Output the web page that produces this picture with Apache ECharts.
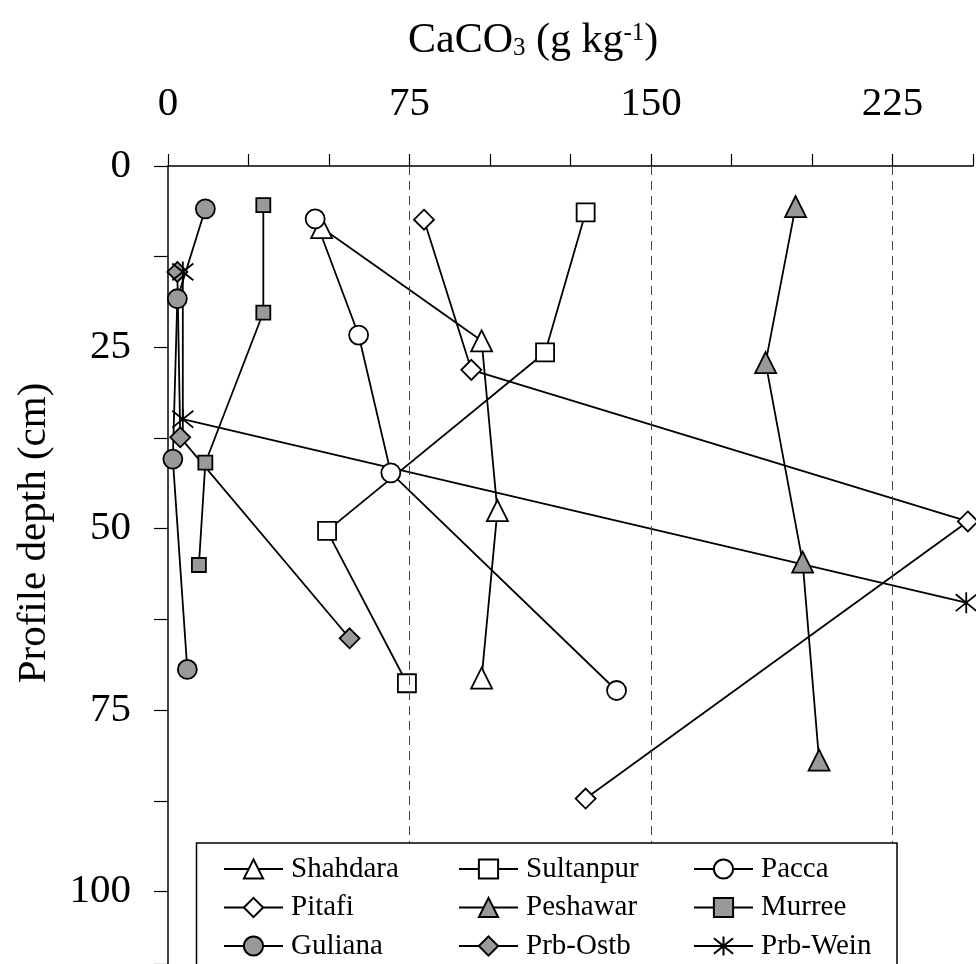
<!DOCTYPE html>
<html>
<head>
<meta charset="utf-8">
<script src="https://cdn.jsdelivr.net/npm/echarts@6/dist/echarts.min.js"></script>
<style>html,body{margin:0;padding:0;background:#fff;}#c{width:976px;height:964px;}</style>
</head>
<body>
<div id="c"></div>
<script>
// ---- Data (CaCO3 g/kg vs profile depth cm) ----
const seriesNames = ['Shahdara','Sultanpur','Pacca','Pitafi','Peshawar','Murree','Guliana','Prb-Ostb','Prb-Wein'];

const shahdaraCaCO3 = [47.7, 97.4, 102.3, 97.4];
const shahdaraDepth = [8.5, 24.1, 47.5, 70.6];
const sultanpurCaCO3 = [129.7, 117.1, 49.4, 74.2];
const sultanpurDepth = [6.4, 25.7, 50.3, 71.3];
const paccaCaCO3 = [45.7, 59.2, 69.2, 139.3];
const paccaDepth = [7.3, 23.3, 42.3, 72.3];
const pitafiCaCO3 = [79.5, 94.2, 248.4, 129.7];
const pitafiDepth = [7.4, 28.1, 49.0, 87.2];
const peshawarCaCO3 = [194.9, 185.6, 197.1, 202.2];
const peshawarDepth = [5.6, 27.1, 54.6, 81.9];
const murreeCaCO3 = [29.6, 29.6, 11.6, 9.6];
const murreeDepth = [5.4, 20.2, 40.9, 55.0];
const gulianaCaCO3 = [11.6, 2.9, 1.5, 6.0];
const gulianaDepth = [5.9, 18.3, 40.4, 69.4];
const prbOstbCaCO3 = [2.9, 3.8, 56.4];
const prbOstbDepth = [14.6, 37.4, 65.1];
const prbWeinCaCO3 = [4.6, 4.6, 247.9];
const prbWeinDepth = [14.6, 34.9, 60.2];

const xGridValues = [75, 150, 225];

// ---- Styling ----
const FONT = '"Liberation Serif", "Times New Roman", serif';
const GREY = '#999999';
const STAR = 'path://M10,0 L10,20 M1,2 L19,18 M1,18 L19,2';

function zip(xs, ys) { return xs.map((x, i) => [x, ys[i]]); }

const seriesDefs = [
  {name: 'Shahdara', x: shahdaraCaCO3, y: shahdaraDepth, symbol: 'triangle', size: 21, fill: '#fff'},
  {name: 'Sultanpur', x: sultanpurCaCO3, y: sultanpurDepth, symbol: 'rect', size: 18, fill: '#fff'},
  {name: 'Pacca', x: paccaCaCO3, y: paccaDepth, symbol: 'circle', size: 19, fill: '#fff'},
  {name: 'Pitafi', x: pitafiCaCO3, y: pitafiDepth, symbol: 'diamond', size: 20, fill: '#fff'},
  {name: 'Peshawar', x: peshawarCaCO3, y: peshawarDepth, symbol: 'triangle', size: 21, fill: GREY},
  {name: 'Murree', x: murreeCaCO3, y: murreeDepth, symbol: 'rect', size: 14, fill: GREY},
  {name: 'Guliana', x: gulianaCaCO3, y: gulianaDepth, symbol: 'circle', size: 19, fill: GREY},
  {name: 'Prb-Ostb', x: prbOstbCaCO3, y: prbOstbDepth, symbol: 'diamond', size: 20, fill: GREY},
  {name: 'Prb-Wein', x: prbWeinCaCO3, y: prbWeinDepth, symbol: STAR, size: 21, fill: 'transparent'}
];

const series = seriesDefs.map((d, i) => {
  const s = {
    name: d.name,
    type: 'line',
    data: zip(d.x, d.y),
    symbol: d.symbol,
    symbolSize: d.size,
    showAllSymbol: true,
    clip: false,
    lineStyle: {color: '#000', width: 1.8},
    itemStyle: {color: d.fill, borderColor: '#000', borderWidth: 1.8},
    emphasis: {disabled: true},
    z: 3
  };
  if (i === 0) {
    s.markLine = {
      silent: true,
      symbol: 'none',
      label: {show: false},
      lineStyle: {type: [9, 6], color: '#444', width: 1},
      data: xGridValues.map(v => ({xAxis: v}))
    };
  }
  return s;
});

function legendCol(names, left) {
  return {
    orient: 'vertical',
    left: left,
    top: 850,
    height: 200,
    padding: 0,
    itemWidth: 59,
    itemHeight: 24,
    itemGap: 0.5,
    selectedMode: false,
    z: 20,
    textStyle: {fontFamily: FONT, fontSize: 29, color: '#000', lineHeight: 38, padding: [0, 0, 0, 3]},
    data: names
  };
}

const chart = echarts.init(document.getElementById('c'), null, {renderer: 'canvas'});
chart.setOption({
  animation: false,
  backgroundColor: '#fff',
  title: {
    text: '{a|CaCO}{s|3}{a| (g kg}{p|-1}{a|)}',
    left: 408,
    top: 21,
    padding: 0,
    textStyle: {
      fontWeight: 'normal',
      rich: {
        a: {fontFamily: FONT, fontSize: 42, lineHeight: 40, color: '#000', fontWeight: 'normal'},
        s: {fontFamily: FONT, fontSize: 25, lineHeight: 22, color: '#000', fontWeight: 'normal', verticalAlign: 'bottom'},
        p: {fontFamily: FONT, fontSize: 25, lineHeight: 22, color: '#000', fontWeight: 'normal', verticalAlign: 'top'}
      }
    }
  },
  grid: {left: 168, right: 1.3, top: 166, bottom: 0, containLabel: false},
  xAxis: {
    type: 'value',
    position: 'top',
    min: 0,
    max: 250,
    interval: 25,
    axisLine: {show: true, lineStyle: {color: '#000', width: 1.5}},
    axisTick: {show: true, inside: false, length: 12, lineStyle: {color: '#000', width: 1.2}},
    axisLabel: {
      margin: 41,
      fontFamily: FONT,
      fontSize: 41,
      color: '#000',
      formatter: v => (v % 75 === 0 ? String(v) : '')
    },
    splitLine: {show: false}
  },
  yAxis: {
    type: 'value',
    inverse: true,
    min: 0,
    max: 110,
    interval: 12.5,
    axisLine: {show: true, lineStyle: {color: '#000', width: 1.5}},
    axisTick: {show: true, inside: false, length: 14, lineStyle: {color: '#000', width: 1.2}},
    axisLabel: {
      margin: 37,
      fontFamily: FONT,
      fontSize: 41,
      color: '#000',
      formatter: v => (v % 25 === 0 ? String(v) : '')
    },
    splitLine: {show: false}
  },
  legend: [
    legendCol(['Shahdara', 'Pitafi', 'Guliana'], 223),
    legendCol(['Sultanpur', 'Peshawar', 'Prb-Ostb'], 458),
    legendCol(['Pacca', 'Murree', 'Prb-Wein'], 693)
  ],
  graphic: [
    {
      type: 'rect',
      z: 15,
      shape: {x: 196.5, y: 843, width: 700.5, height: 200},
      style: {fill: '#fff', stroke: '#000', lineWidth: 1.5}
    },
    {
      type: 'text',
      x: 34,
      y: 533,
      rotation: Math.PI / 2,
      style: {
        text: 'Profile depth (cm)',
        fontFamily: FONT,
        fontSize: 41,
        fill: '#000',
        align: 'center',
        verticalAlign: 'middle'
      }
    }
  ],
  series: series
});
</script>
</body>
</html>
